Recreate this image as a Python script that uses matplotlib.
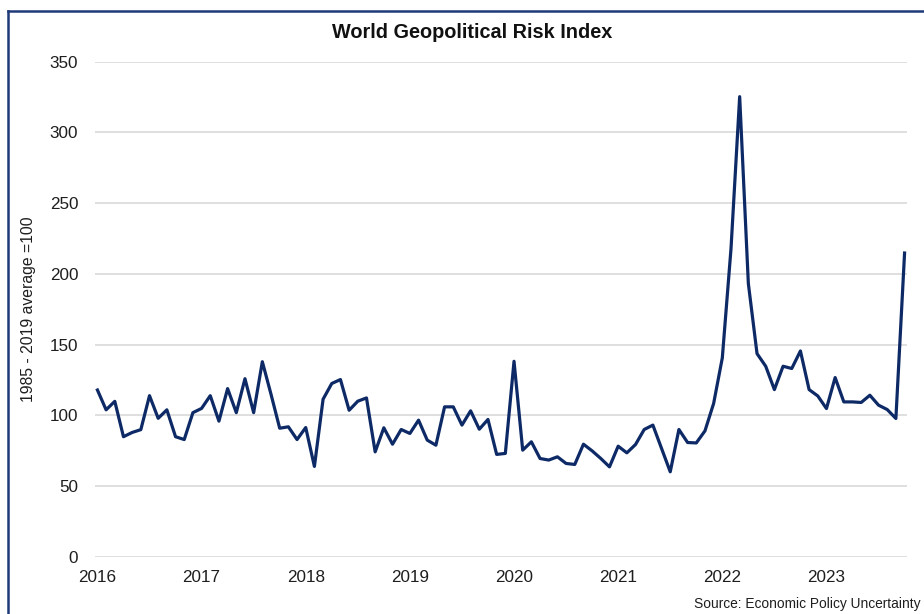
import matplotlib
matplotlib.use("Agg")
import matplotlib.pyplot as plt
from matplotlib.lines import Line2D

plt.rcParams["font.family"] = ["Liberation Sans", "DejaVu Sans"]

# Monthly World Geopolitical Risk Index, Jan 2016 - Oct 2023 (1985-2019 average = 100)
gpr_2016 = [118, 104, 110, 85, 88, 90, 114, 98, 104, 85, 83, 102]
gpr_2017 = [105, 114, 96, 119, 102, 126, 102, 138, 115, 91, 92, 83]
gpr_2018 = [91.5, 64, 111.5, 122.6, 125.4, 103.7, 110.1, 112.4, 74.3, 91.3, 79.7, 90.1]
gpr_2019 = [87.3, 96.7, 82.6, 79, 106.1, 106.1, 93.2, 103.3, 90.3, 97.2, 72.5, 73.2]
gpr_2020 = [138.3, 75.5, 81.4, 69.6, 68.5, 70.8, 66.1, 65.4, 79.7, 75, 69.6, 63.7]
gpr_2021 = [78.3, 73.6, 79.5, 90.1, 93.2, 76.7, 60.2, 90.1, 80.9, 80.6, 89.1, 108.5]
gpr_2022 = [140.7, 217.8, 325.3, 193.2, 143.7, 134.8, 118.3, 134.8, 133.2, 145.6, 118.3, 113.8]
gpr_2023 = [104.9, 126.8, 109.6, 109.6, 109.2, 114.3, 107.3, 104.2, 97.9, 214.8]

years = ["2016", "2017", "2018", "2019", "2020", "2021", "2022", "2023"]
y_ticks = [0, 50, 100, 150, 200, 250, 300, 350]

values = gpr_2016 + gpr_2017 + gpr_2018 + gpr_2019 + gpr_2020 + gpr_2021 + gpr_2022 + gpr_2023
months = list(range(len(values)))

fig = plt.figure(figsize=(9.24, 6.14), dpi=100)
ax = fig.add_axes([95 / 924, 1 - 557 / 614, (907 - 95) / 924, (557 - 61.7) / 614])

ax.plot(months, values, color="#0D2A66", linewidth=2.3, solid_joinstyle="round", zorder=3)

ax.set_ylim(0, 350)
ax.set_xlim(-0.28, len(values) - 1 + 0.28)
ax.set_yticks(y_ticks)
ax.set_xticks([12 * i for i in range(len(years))])
ax.set_xticklabels(years)

ax.grid(axis="y", color="#D9D9D9", linewidth=1.2, zorder=0)
ax.grid(axis="x", visible=False)
for side in ["top", "right", "left", "bottom"]:
    ax.spines[side].set_visible(False)
ax.tick_params(axis="both", length=0, labelsize=12.3, labelcolor="#1E1E1E")
ax.tick_params(axis="y", pad=12)
ax.tick_params(axis="x", pad=9)

ax.set_ylabel("1985 - 2019 average =100", fontsize=11.3, color="#1E1E1E")
ax.yaxis.set_label_coords(-(95 - 36) / 812, 0.5)

fig.text(472 / 924, 1 - 32 / 614, "World Geopolitical Risk Index",
         ha="center", va="center", fontsize=14.3, fontweight="bold", color="#111111")
fig.text(921 / 924, 1 - 604 / 614, "Source: Economic Policy Uncertainty",
         ha="right", va="center", fontsize=9.9, color="#1E1E1E")

# Frame around the chart (top and left edges visible)
border = "#1F3A78"
fig.add_artist(Line2D([8 / 924, 1.0], [1 - 10.5 / 614, 1 - 10.5 / 614],
                      color=border, linewidth=1.8, transform=fig.transFigure))
fig.add_artist(Line2D([8 / 924, 8 / 924], [0.0, 1 - 10.5 / 614],
                      color=border, linewidth=1.8, transform=fig.transFigure))

fig.savefig("out.png", dpi=100)
